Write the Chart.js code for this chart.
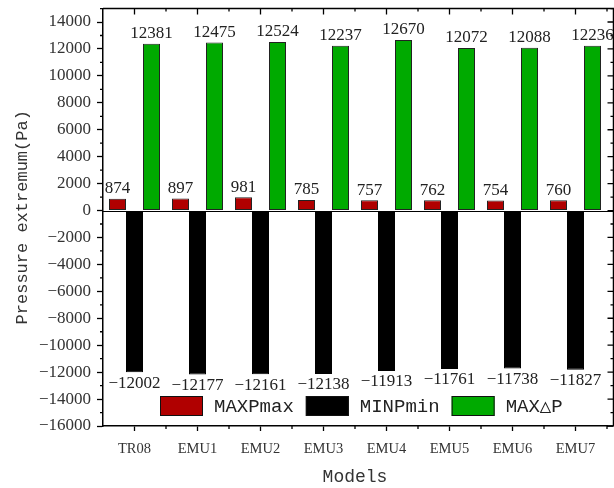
<!DOCTYPE html>
<html>
<head>
<meta charset="utf-8">
<script src="https://cdn.jsdelivr.net/npm/chart.js@4"></script>
<style>
html,body{margin:0;padding:0;background:#fff;}
#wrap{width:614px;height:488px;}
</style>
</head>
<body>
<div id="wrap"><canvas id="c" width="614" height="488"></canvas></div>
<script>
const categories = ['TR08','EMU1','EMU2','EMU3','EMU4','EMU5','EMU6','EMU7'];
const maxPmax = [874, 897, 981, 785, 757, 762, 754, 760];
const minPmin = [-12002, -12177, -12161, -12138, -11913, -11761, -11738, -11827];
const maxDeltaP = [12381, 12475, 12524, 12237, 12670, 12072, 12088, 12236];
const yTicks = [-16000,-14000,-12000,-10000,-8000,-6000,-4000,-2000,0,2000,4000,6000,8000,10000,12000,14000];
const seriesNames = ['MAXPmax','MINPmin','MAX\u25B3P'];

const serifFam = '"Liberation Serif", "Times New Roman", serif';
const monoFam = '"Liberation Mono", monospace';
const numFont = '17px ' + serifFam;
const fmt = v => (v < 0 ? '\u2212' + Math.abs(v) : String(v));

const extras = {
  id: 'extras',
  beforeDatasetsDraw(chart) {
    const ctx = chart.ctx, y = chart.scales.y, a = chart.chartArea;
    const py = Math.round(y.getPixelForValue(0)) + 0.5;
    ctx.save();
    ctx.strokeStyle = '#000';
    ctx.lineWidth = 1;
    ctx.beginPath();
    ctx.moveTo(a.left, py); ctx.lineTo(chart.width, py);
    ctx.stroke();
    ctx.restore();
  },
  afterDraw(chart) {
    const ctx = chart.ctx;
    const x = chart.scales.x, y = chart.scales.y;
    const a = chart.chartArea;
    const rEdge = chart.width - 0.5;
    ctx.save();
    ctx.strokeStyle = '#000';
    ctx.lineWidth = 1.5;
    ctx.beginPath();
    ctx.moveTo(a.left, a.top); ctx.lineTo(rEdge, a.top); ctx.lineTo(rEdge, a.bottom);
    ctx.moveTo(a.right, a.bottom); ctx.lineTo(rEdge, a.bottom);
    ctx.stroke();
    ctx.lineWidth = 1.3;
    ctx.beginPath();
    for (let v = yTicks[0]; v <= 15000; v += 1000) {
      const py = y.getPixelForValue(v);
      const major = yTicks.includes(v);
      if (!major) { ctx.moveTo(a.left, py); ctx.lineTo(a.left - 3, py); }
      ctx.moveTo(rEdge, py); ctx.lineTo(rEdge - (major ? 6 : 3), py);
    }
    const step = x.getPixelForValue(1) - x.getPixelForValue(0);
    categories.forEach((c, i) => {
      const px = x.getPixelForValue(i);
      ctx.moveTo(px, a.top); ctx.lineTo(px, a.top + 6);
      const bx = px + step / 2;
      ctx.moveTo(bx, a.top); ctx.lineTo(bx, a.top + 3);
      ctx.moveTo(bx, a.bottom); ctx.lineTo(bx, a.bottom + 3);
    });
    ctx.stroke();

    ctx.fillStyle = '#222';
    ctx.font = numFont;
    ctx.textAlign = 'center';
    ctx.textBaseline = 'middle';
    chart.data.datasets.forEach((ds, di) => {
      const meta = chart.getDatasetMeta(di);
      meta.data.forEach((bar, i) => {
        const v = ds.data[i];
        const ty = v >= 0 ? bar.y - 10 : bar.y + 11;
        ctx.fillText(fmt(v), bar.x, ty);
      });
    });

    ctx.font = '19px ' + monoFam;
    ctx.textAlign = 'left';
    let lx = 160;
    const ly = 396, bw = 43, bh = 20;
    chart.data.datasets.forEach((ds) => {
      ctx.fillStyle = ds.backgroundColor;
      ctx.fillRect(lx, ly, bw, bh);
      ctx.lineWidth = 1;
      ctx.strokeStyle = '#111';
      ctx.strokeRect(lx + 0.5, ly + 0.5, bw - 1, bh - 1);
      ctx.fillStyle = '#222';
      ctx.fillText(ds.label, lx + bw + 11, ly + bh / 2 + 1);
      lx += bw + 11 + ctx.measureText(ds.label).width + 12;
    });
    ctx.restore();
  }
};

new Chart(document.getElementById('c'), {
  type: 'bar',
  data: {
    labels: categories,
    datasets: [
      { label: seriesNames[0], data: maxPmax, backgroundColor: '#B00000', borderColor: '#222', borderWidth: 1 },
      { label: seriesNames[1], data: minPmin, backgroundColor: '#000000', borderColor: '#000', borderWidth: 1 },
      { label: seriesNames[2], data: maxDeltaP, backgroundColor: '#00AA00', borderColor: '#222', borderWidth: 1 }
    ]
  },
  options: {
    responsive: false,
    animation: false,
    devicePixelRatio: 1,
    layout: { padding: { top: 8, right: 7, left: 0, bottom: 0 } },
    datasets: { bar: { categoryPercentage: 0.81, barPercentage: 1.0, borderSkipped: false } },
    plugins: { legend: { display: false }, tooltip: { enabled: false } },
    scales: {
      x: {
        offset: true,
        grid: { display: true, drawOnChartArea: false, drawTicks: true, tickLength: 5, color: '#000', tickWidth: 1.3, offset: false },
        border: { display: true, color: '#000', width: 1.5 },
        ticks: { color: '#333', font: { family: serifFam, size: 14.5 }, padding: 9, maxRotation: 0 },
        title: { display: true, text: 'Models', color: '#333', font: { family: monoFam, size: 18 }, padding: { top: 0, bottom: 0 } },
        afterFit(s) { s.height = 62; }
      },
      y: {
        min: -16000,
        max: 15000,
        afterBuildTicks(s) { s.ticks = yTicks.map(v => ({ value: v })); },
        grid: { display: true, drawOnChartArea: false, drawTicks: true, tickLength: 6, color: '#000', tickWidth: 1.3 },
        border: { display: true, color: '#000', width: 1.5 },
        ticks: { color: '#333', font: { family: serifFam, size: 17, lineHeight: 0.3 }, padding: 6, callback: v => fmt(v) },
        title: { display: true, text: 'Pressure extremum(Pa)', color: '#333', font: { family: monoFam, size: 17 }, padding: { top: 12, bottom: 0 } },
        afterFit(s) { s.width = 103; }
      }
    }
  },
  plugins: [extras]
});
</script>
</body>
</html>
